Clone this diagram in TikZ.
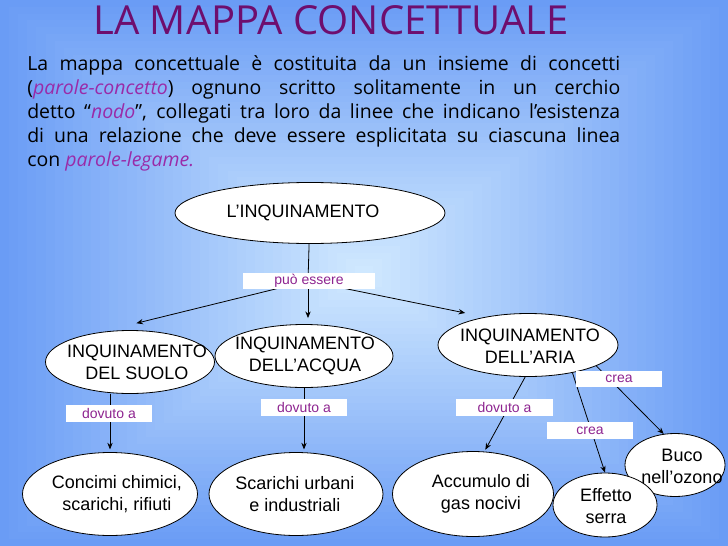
\documentclass[tikz,border=0pt]{standalone}
\usepackage{fontspec}
\setmainfont{Liberation Sans}
\newfontfamily\corpofont{Open Sans}
\usepackage{tikz}
\usetikzlibrary{arrows.meta,shapes.geometric}
\definecolor{bluBordo}{HTML}{6A9CF5}
\definecolor{bluCentro}{HTML}{D2EAFF}
\definecolor{violaTitolo}{HTML}{6E0E6E}
\definecolor{violaCorsivo}{HTML}{9A2BA8}
\definecolor{violaLegame}{HTML}{8E2490}

\begin{document}
\begin{tikzpicture}[x=0.75pt, y=-0.75pt,
  concetto/.style={ellipse,draw=black,line width=0.6pt,fill=white,inner sep=0pt},
  testo/.style={font=\fontsize{13.5}{16.5}\selectfont,align=center,inner sep=0pt},
  legame/.style={fill=white,inner sep=0pt,text=violaLegame,
                 font=\fontsize{10.5}{12}\selectfont},
  freccia/.style={-{Stealth[length=5pt,width=4pt]},line width=0.6pt},
  linea/.style={line width=0.6pt}]
\useasboundingbox (0,0) rectangle (728,546);
% sfondo a rettangoli concentrici
\foreach \i in {0,...,40}{
  \pgfmathsetmacro\perc{\i*2.5}
  \fill[bluCentro!\perc!bluBordo] (\i*9.1,\i*6.825) rectangle (728-\i*9.1,546-\i*6.825);
}
% titolo e testo
\node[anchor=base,inner sep=0pt,text=violaTitolo,font=\corpofont\fontsize{30}{32}\selectfont] (titolo) at (331,34) {LA MAPPA CONCETTUALE};
\node[anchor=north west,inner sep=0pt,text width=444.75pt,align=justify,
      font=\corpofont\fontsize{14.6}{18}\selectfont] (corpo) at (27,55)
  {La mappa concettuale è costituita da un insieme di concetti\linebreak
   (\textit{\textcolor{violaCorsivo}{parole-concetto}}) ognuno scritto solitamente in un cerchio\linebreak
   detto “\textit{\textcolor{violaCorsivo}{nodo}}”, collegati tra loro da linee che indicano l’esistenza\linebreak
   di una relazione che deve essere esplicitata su ciascuna linea\linebreak
   con \textit{\textcolor{violaCorsivo}{parole-legame.}}\hfill\null};
% nodi
\node[concetto,minimum width=202.5pt,minimum height=45.75pt] (inq) at (310,213) {};
\node[testo] (tinq) at (303,213) {L’INQUINAMENTO};
\node[concetto,minimum width=126.75pt,minimum height=47.25pt] (suolo) at (130,362) {};
\node[testo] (tsuolo) at (137,362) {INQUINAMENTO\\DEL SUOLO};
\node[concetto,minimum width=133.5pt,minimum height=47.25pt] (acqua) at (304,356) {};
\node[testo] (tacqua) at (305,356) {INQUINAMENTO\\DELL’ACQUA};
\node[concetto,minimum width=135pt,minimum height=47.25pt] (aria) at (528,345) {};
\node[testo] (taria) at (530,346) {INQUINAMENTO\\DELL’ARIA};
\node[concetto,minimum width=131.25pt,minimum height=62.25pt] (concimi) at (110,494) {};
\node[testo] (tconcimi) at (117,494) {Concimi chimici,\\scarichi, rifiuti};
\node[concetto,minimum width=130.5pt,minimum height=62.25pt] (scarichi) at (296,494) {};
\node[testo] (tscarichi) at (295,494) {Scarichi urbani\\e industriali};
\node[concetto,minimum width=120.75pt,minimum height=63.75pt] (accumulo) at (473,494) {};
\node[testo] (taccumulo) at (481,494) {Accumulo di\\gas nocivi};
\node[concetto,minimum width=75pt,minimum height=47.25pt] (buco) at (675,465) {};
\node[testo] (tbuco) at (682,466) {Buco\\nell’ozono};
\node[concetto,minimum width=78pt,minimum height=48pt] (effetto) at (605,505) {};
\node[testo] (teffetto) at (606,506) {Effetto\\serra};
% collegamenti
\coordinate (pe) at (308,281);
\draw[linea] (inq) -- (pe);
\draw[freccia,shorten >=28pt] (pe) -- (suolo.135);
\draw[freccia,shorten >=4.5pt] (pe) -- (pe |- acqua.north);
\draw[freccia,shorten >=15pt] (pe) -- (aria.147);
\draw[freccia,shorten >=2pt] (suolo.south -| concimi) -- (concimi.north);
\draw[freccia,shorten >=2pt] (acqua.south) -- (acqua.south |- scarichi.north);
\draw[freccia,shorten >=1.5pt] (aria.265) -- (accumulo.75);
\draw[freccia] (aria.-32) -- (effetto.north);
\draw[freccia] (aria.-17) -- (buco.110);
% parole-legame
\node[legame,minimum width=99pt,minimum height=12pt] (lpe) at (309,281) {può essere};
\node[legame,minimum width=64.5pt,minimum height=12.75pt] (ldv1) at (109,413.5) {dovuto a};
\node[legame,minimum width=64.5pt,minimum height=12.75pt] (ldv2) at (304,407.5) {dovuto a};
\node[legame,minimum width=72.75pt,minimum height=12.75pt] (ldv3) at (504.5,407.5) {dovuto a};
\node[legame,minimum width=64.5pt,minimum height=12pt] (lcr1) at (619,379) {crea};
\node[legame,minimum width=64.5pt,minimum height=12.75pt] (lcr2) at (590,430.5) {crea};
\end{tikzpicture}
\end{document}
